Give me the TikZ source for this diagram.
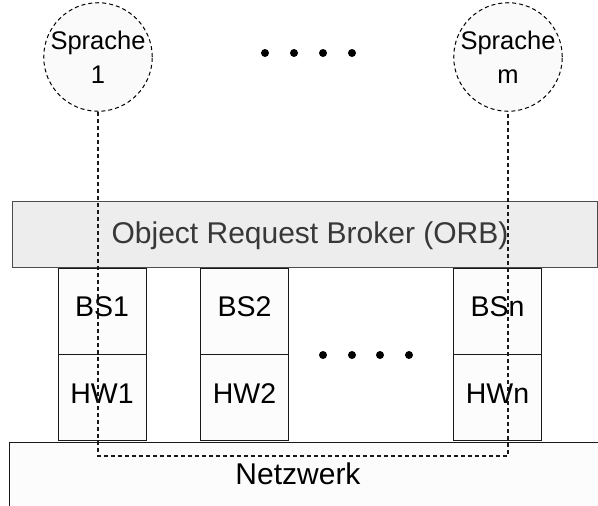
\documentclass[tikz,border=0pt]{standalone}
\usepackage{fontspec}
\setmainfont{Liberation Sans}
\begin{document}
\begin{tikzpicture}[x=1pt,y=-1pt,
  lang/.style={circle,draw=black,dash pattern=on 4pt off 3pt,line width=1pt,fill=black!2,minimum size=106pt,inner sep=0pt,align=center,
    font=\fontsize{25.5}{34}\selectfont},
  hostbox/.style={draw=black!90,line width=1pt,fill=black!1,minimum width=88pt,minimum height=86pt,inner sep=0pt,
    font=\fontsize{28.5}{34}\selectfont,text depth=8pt},
  dot/.style={circle,fill=black,inner sep=0pt,minimum size=8pt},
  conn/.style={draw=black!90,dash pattern=on 4pt off 3pt,line width=1.2pt}]
\useasboundingbox (0,0) rectangle (598,506);
% languages
\node[lang] (s1) at (98,57) {Sprache\\1};
\node[lang] (sm) at (508,57) {Sprache\\m};
\foreach \i/\x in {1/265,2/294,3/323,4/352} \node[dot] (td\i) at (\x,53) {};
% ORB
\node[draw=black!70,line width=1pt,fill=black!7,minimum width=585pt,minimum height=66pt,inner sep=0pt] (orb) at (305,234) {};
\node[text=black!78,font=\fontsize{30}{36}\selectfont,inner sep=0pt] (orbt) at (310,236) {Object Request Broker (ORB)};
% hosts
\node[hostbox] (bs1) at (102,311) {BS1};
\node[hostbox] (hw1) at (102,397.5) {HW1};
\node[hostbox] (bs2) at (244.5,311) {BS2};
\node[hostbox] (hw2) at (244.5,397.5) {HW2};
\node[hostbox] (bsn) at (497.5,311) {BSn};
\node[hostbox] (hwn) at (497.5,397.5) {HWn};
\foreach \i/\x in {1/323,2/352,3/380,4/409} \node[dot] (md\i) at (\x,355) {};
% network
\node[draw=black!90,line width=1pt,fill=black!1,minimum width=596pt,minimum height=80pt,inner sep=0pt] (net) at (307,482) {};
\node[font=\fontsize{30}{36}\selectfont,inner sep=0pt] (nett) at (298,474) {Netzwerk};
% connection
\coordinate (lan) at (300,456);
\draw[conn] (s1.south) |- (lan) -| (sm.south);
\end{tikzpicture}
\end{document}
